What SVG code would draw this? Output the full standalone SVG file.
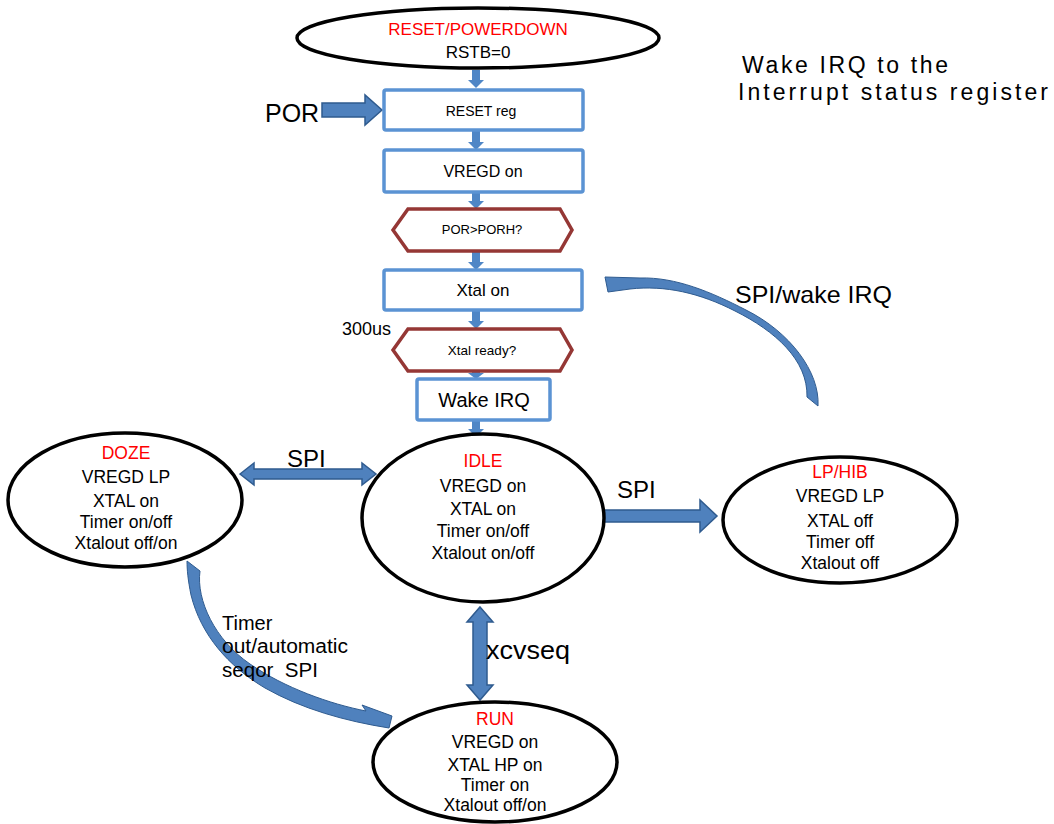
<svg xmlns="http://www.w3.org/2000/svg" width="1054" height="824" viewBox="0 0 1054 824">
<defs>
<style>
text{font-family:"Liberation Sans",Arial,sans-serif;fill:#000}
.st{fill:#fff;stroke:#000;stroke-width:3.5}
.bx{fill:#fff;stroke:#5b93d3;stroke-width:3.5}
.hx{fill:#fff;stroke:#953735;stroke-width:3.5}
.small{fill:#4f86c6}
.big{fill:#4f81bd;stroke:#2f5b8f;stroke-width:1.5}
.curve{fill:#4f81bd;stroke:#2f5b8f;stroke-width:1}
.red{fill:#ff0000}
.t{text-anchor:middle;font-size:17.5px}
</style>
</defs>
<rect width="1054" height="824" fill="#fff"/>
<g id="connectors">
<path class="small" d="M472,70 h8 v10 h4 l-8,8 l-8,-8 h4 z"/>
<path class="small" d="M472,130 h8 v12 h4 l-8,8 l-8,-8 h4 z"/>
<path class="small" d="M472,192 h8 v9 h4 l-8,8 l-8,-8 h4 z"/>
<path class="small" d="M472,251 h8 v11 h4 l-8,8 l-8,-8 h4 z"/>
<path class="small" d="M472,310 h8 v11 h4 l-8,8 l-8,-8 h4 z"/>
<path class="small" d="M472,371 h8 v2 h4 l-8,6 l-8,-6 h4 z"/>
<path class="small" d="M472,420 h8 v9 h4 l-8,8 l-8,-8 h4 z"/>
<path class="big" d="M322,103 h43 v-8 l17,15 l-17,15 v-8 h-43 z"/>
<path class="big" d="M240,474 l14,-11 v6 h108 v-6 l14,11 l-14,11 v-6 h-108 v6 z"/>
<path class="big" d="M603,510 h97 v-10 l17,16 l-17,16 v-10 h-97 z"/>
<path class="big" d="M480,607 l13,15 h-6 v63 h6 l-13,15 l-13,-15 h6 v-63 h-6 z"/>
<path class="curve" d="M187,561 L200,571 C196,600 215,640 250,664 C285,688 330,704 366,711 L362,705 L392,716 L389,728 C345,721 302,709 265,688 C228,666 201,635 191,595 C188,580 187,570 187,561 Z"/>
<path class="curve" d="M807,397 L818,406 C820,372 790,332 746,310 C711,292 676,277 640,278 L605,277 L608,292 L630,289 C665,285 700,293 735,311 C775,331 808,360 807,397 Z"/>
</g>
<g id="n-reset">
<ellipse class="st" cx="478" cy="38" rx="181" ry="30"/>
<text class="t red" x="478" y="35" style="font-size:17px">RESET/POWERDOWN</text>
<text class="t" x="478" y="58" style="font-size:17px">RSTB=0</text>
</g>
<g id="n-resetreg">
<rect class="bx" x="384" y="90" width="199" height="40" rx="2"/>
<text class="t" x="481" y="116" style="font-size:14px">RESET reg</text>
</g>
<g id="n-vregd">
<rect class="bx" x="384" y="150" width="199" height="42" rx="2"/>
<text class="t" x="483" y="177" style="font-size:16px">VREGD on</text>
</g>
<g id="n-porh">
<polygon class="hx" points="393,230 408,209 560,209 572,230 560,251 408,251"/>
<text class="t" x="482" y="234" style="font-size:13px">POR&gt;PORH?</text>
</g>
<g id="n-xtalon">
<rect class="bx" x="384" y="270" width="198" height="40" rx="2"/>
<text class="t" x="483" y="296" style="font-size:17px">Xtal on</text>
</g>
<g id="n-xtalready">
<polygon class="hx" points="393,350 408,329 560,329 572,350 560,371 408,371"/>
<text class="t" x="482" y="355" style="font-size:13.5px">Xtal ready?</text>
</g>
<g id="n-wakeirq">
<rect class="bx" x="417" y="379" width="133" height="41" rx="2"/>
<text class="t" x="484" y="407" style="font-size:20px">Wake IRQ</text>
</g>
<g id="n-doze">
<ellipse class="st" cx="125" cy="500" rx="117" ry="67"/>
<text class="t red" x="126" y="459">DOZE</text>
<text class="t" x="126" y="483">VREGD LP</text>
<text class="t" x="126" y="507">XTAL on</text>
<text class="t" x="126" y="528">Timer on/off</text>
<text class="t" x="126" y="549">Xtalout off/on</text>
</g>
<g id="n-idle">
<ellipse class="st" cx="483" cy="518" rx="121" ry="84"/>
<text class="t red" x="483" y="467">IDLE</text>
<text class="t" x="483" y="492">VREGD on</text>
<text class="t" x="483" y="515">XTAL on</text>
<text class="t" x="483" y="537">Timer on/off</text>
<text class="t" x="483" y="559">Xtalout on/off</text>
</g>
<g id="n-lphib">
<ellipse class="st" cx="840" cy="520" rx="117" ry="63"/>
<text class="t red" x="840" y="478">LP/HIB</text>
<text class="t" x="840" y="502">VREGD LP</text>
<text class="t" x="840" y="527">XTAL off</text>
<text class="t" x="840" y="548">Timer off</text>
<text class="t" x="840" y="569">Xtalout off</text>
</g>
<g id="n-run">
<ellipse class="st" cx="495" cy="762" rx="122" ry="60"/>
<text class="t red" x="495" y="725">RUN</text>
<text class="t" x="495" y="748">VREGD on</text>
<text class="t" x="495" y="771">XTAL HP on</text>
<text class="t" x="495" y="791">Timer on</text>
<text class="t" x="495" y="811">Xtalout off/on</text>
</g>
<g id="labels">
<text x="265" y="122" style="font-size:25px">POR</text>
<text x="342" y="335" style="font-size:18px">300us</text>
<text x="287" y="467" style="font-size:24px">SPI</text>
<text x="617" y="498" style="font-size:24px">SPI</text>
<text x="486" y="659" style="font-size:26px" textLength="84" lengthAdjust="spacingAndGlyphs">xcvseq</text>
<text x="735" y="303" style="font-size:24px" textLength="157" lengthAdjust="spacingAndGlyphs">SPI/wake IRQ</text>
<text x="222" y="630" style="font-size:20px">Timer</text>
<text x="222" y="653" style="font-size:20px" textLength="126" lengthAdjust="spacingAndGlyphs">out/automatic</text>
<text x="222" y="677" style="font-size:20px;white-space:pre" xml:space="preserve" textLength="96" lengthAdjust="spacingAndGlyphs">seqor  SPI</text>
<text x="742" y="73" style="font-size:23px" textLength="206" lengthAdjust="spacing">Wake IRQ to the</text>
<text x="738" y="100" style="font-size:23px" textLength="310" lengthAdjust="spacing">Interrupt status register</text>
</g>
</svg>
